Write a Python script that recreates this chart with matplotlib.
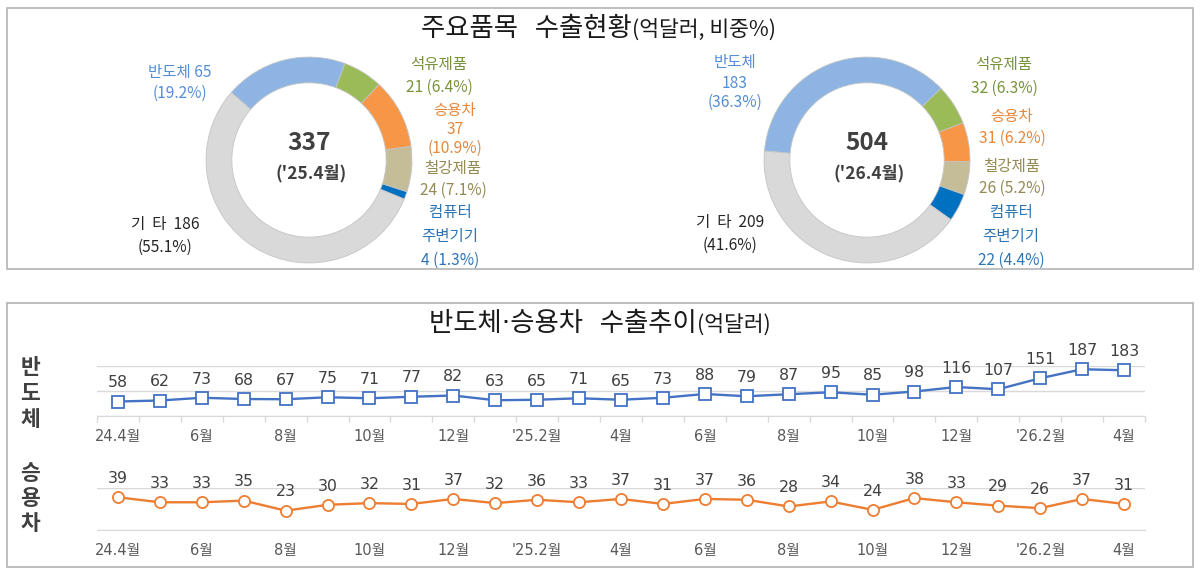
import matplotlib
matplotlib.use('Agg')
import matplotlib.pyplot as plt
from matplotlib.patches import Rectangle

W, H = 1200, 574
KR = 'Noto Sans CJK KR'
NUM = ['DejaVu Sans', 'Noto Sans CJK KR']
plt.rcParams['font.family'] = [KR, 'DejaVu Sans']

# ---------------- data ----------------
item_names = ['반도체', '석유제품', '승용차', '철강제품', '컴퓨터|주변기기', '기 타']
vals_25 = [65, 21, 37, 24, 4, 186]
share_25 = [19.2, 6.4, 10.9, 7.1, 1.3, 55.1]
total_25 = 337
period_25 = "('25.4월)"
vals_26 = [183, 32, 31, 26, 22, 209]
share_26 = [36.3, 6.3, 6.2, 5.2, 4.4, 41.6]
total_26 = 504
period_26 = "('26.4월)"

semi = [58, 62, 73, 68, 67, 75, 71, 77, 82, 63, 65, 71, 65, 73, 88, 79, 87, 95, 85, 98,
        116, 107, 151, 187, 183]
car = [39, 33, 33, 35, 23, 30, 32, 31, 37, 32, 36, 33, 37, 31, 37, 36, 28, 34, 24, 38,
       33, 29, 26, 37, 31]
tick_labels = ['24.4월', '6월', '8월', '10월', '12월', "'25.2월", '4월', '6월', '8월',
               '10월', '12월', "'26.2월", '4월']

title_top = ('주요품목  수출현황', '(억달러, 비중%)')
title_bot = ('반도체·승용차  수출추이', '(억달러)')
row_names = ['반도체', '승용차']

# ---------------- styles ----------------
wedge_colors = ['#8DB4E2', '#9BBB59', '#F79646', '#C4BD97', '#0070C0', '#D9D9D9']
label_colors = ['#558ED5', '#77933C', '#E7873A', '#948A54', '#2E75B6', '#262626']

fig = plt.figure(figsize=(W / 100, H / 100), dpi=100)


def P(x, y):
    return (x / W, 1 - y / H)


def ftext(x, y, s, **kw):
    fx, fy = P(x, y)
    fig.text(fx, fy, s, **kw)


# frames
for (x0, y0, x1, y1) in [(7, 8, 1193, 269), (7, 303, 1193, 567)]:
    fig.add_artist(Rectangle(P(x0, y1), (x1 - x0) / W, (y1 - y0) / H,
                             transform=fig.transFigure, fill=False,
                             edgecolor='#b4b4b4', linewidth=1.2))

# titles
ftext(632, 36, title_top[0], ha='right', va='baseline', fontsize=19, color='#1a1a1a',
      family=NUM)
ftext(632, 36, title_top[1], ha='left', va='baseline', fontsize=15.5, color='#1a1a1a',
      family=[KR])
ftext(697, 331, title_bot[0], ha='right', va='baseline', fontsize=19, color='#1a1a1a',
      family=NUM)
ftext(697, 331, title_bot[1], ha='left', va='baseline', fontsize=15.5, color='#1a1a1a',
      family=[KR])


# ---------------- donuts ----------------
def donut(cx, cy, R, vals, start, total, period):
    ax = fig.add_axes([(cx - R) / W, 1 - (cy + R) / H, 2 * R / W, 2 * R / H])
    ax.pie(vals, colors=wedge_colors, startangle=start, counterclock=False, radius=1,
           wedgeprops=dict(width=0.25, edgecolor='#c4c4c4', linewidth=0.6))
    ax.set_xlim(-1.02, 1.02)
    ax.set_ylim(-1.02, 1.02)
    ax.axis('off')
    ftext(cx, cy - 17, str(total), ha='center', va='center', fontsize=17.5,
          fontweight='bold', color='#404040')
    ftext(cx + 2, cy + 13, period, ha='center', va='center', fontsize=12.5,
          fontweight='bold', color='#404040')


donut(309, 160, 105, vals_25, 139, total_25, period_25)
donut(867, 160, 105, vals_26, 175, total_26, period_26)

# label layouts: (x, [y of each line], format)
layout_25 = [
    (180, [72, 93], '{n} {v}|({p}%)'),
    (439, [65, 87], '{n}|{v} ({p}%)'),
    (455, [111, 130, 148], '{n}|{v}|({p}%)'),
    (453, [168, 190], '{n}|{v} ({p}%)'),
    (450, [213, 237, 260], '{n}|{v} ({p}%)'),
    (165, [225, 247], '{n} {v}|({p}%)'),
]
layout_26 = [
    (735, [63, 83, 102], '{n}|{v}|({p}%)'),
    (1004, [65, 88], '{n}|{v} ({p}%)'),
    (1012, [117, 138], '{n}|{v} ({p}%)'),
    (1012, [167, 188], '{n}|{v} ({p}%)'),
    (1011, [213, 237, 260], '{n}|{v} ({p}%)'),
    (730, [223, 245], '{n} {v}|({p}%)'),
]


def donut_labels(vals, shares, layout):
    for i, (x, ys, fmt) in enumerate(layout):
        s = fmt.format(n=item_names[i], v=vals[i], p=shares[i])
        for line, y in zip(s.split('|'), ys):
            ftext(x, y, line.replace(' ', '  ') if line.startswith('기') else line,
                  ha='center', va='center', fontsize=11.2, color=label_colors[i])


donut_labels(vals_25, share_25, layout_25)
donut_labels(vals_26, share_26, layout_26)

# ---------------- line charts ----------------
xs = list(range(len(semi)))
tick_pos = list(range(0, len(semi), 2))


def line_axes(y_top, y_bot, data, ymax, color, marker, minor_ticks):
    ax = fig.add_axes([97 / W, 1 - y_bot / H, (1145 - 97) / W, (y_bot - y_top) / H])
    ax.set_xlim(-0.5, len(data) - 0.5)
    ax.set_ylim(0, ymax)
    ax.plot(xs, data, color=color, lw=1.7, marker=marker, ms=8, mfc='white',
            mec=color, mew=1.3, clip_on=False, zorder=3)
    for xi, v in zip(xs, data):
        ax.annotate(str(v), (xi, v), xytext=(0, 13.5), textcoords='offset points',
                    ha='center', va='center', fontsize=11.3, color='#404040',
                    family=NUM, annotation_clip=False)
    ax.set_yticks([0, ymax / 2, ymax] if ymax > 100 else [0, ymax])
    ax.yaxis.grid(True, color='#d9d9d9', lw=1)
    ax.tick_params(axis='y', length=0, labelleft=False)
    ax.set_xticks(tick_pos)
    ax.set_xticklabels(tick_labels, family=NUM, fontsize=10.5, color='#595959')
    ax.tick_params(axis='x', which='major', length=0, pad=9)
    if minor_ticks:
        ax.set_xticks([i - 0.5 for i in range(len(data) + 1)], minor=True)
        ax.tick_params(axis='x', which='minor', length=4, color='#d9d9d9', width=1)
    for sp in ['top', 'left', 'right']:
        ax.spines[sp].set_visible(False)
    ax.spines['bottom'].set_color('#d9d9d9')
    ax.set_axisbelow(True)
    return ax


line_axes(366, 416, semi, 200, '#4472C4', 's', True)
line_axes(488, 530, car, 50, '#ED7D31', 'o', False)

# vertical row names
for name, y0 in zip(row_names, [368, 473]):
    for k, ch in enumerate(name):
        ftext(30, y0 + k * 25.5, ch, ha='center', va='center', fontsize=15.5,
              fontweight='bold', color='#404040')

fig.savefig('out.png', dpi=100, facecolor='white')
